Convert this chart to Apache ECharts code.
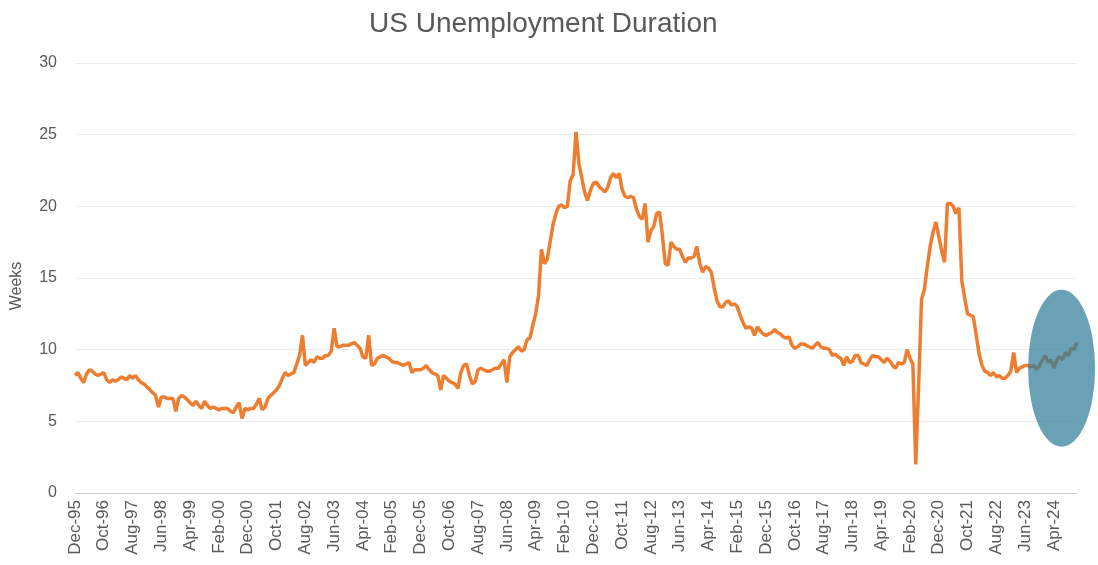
<!DOCTYPE html>
<html>
<head>
<meta charset="utf-8">
<script src="https://cdn.jsdelivr.net/npm/echarts@6/dist/echarts.min.js"></script>
<style>
html,body{margin:0;padding:0;background:#ffffff;}
#chart{width:1098px;height:565px;}
</style>
</head>
<body>
<div id="chart"></div>
<script>
// ---- data ----
const titleText = 'US Unemployment Duration';
const yAxisName = 'Weeks';
const startYear = 1995;
const startMonthIndex = 11; // December
const monthNames = ['Jan','Feb','Mar','Apr','May','Jun','Jul','Aug','Sep','Oct','Nov','Dec'];

// Median duration of unemployment (weeks), monthly from Dec-95
const medianWeeks = [
  8.2,                                                            // 1995 Dec
  8.4, 8.0, 7.7, 8.3, 8.6, 8.5, 8.3, 8.2, 8.3, 8.4, 7.9, 7.7,     // 1996
  7.9, 7.8, 7.9, 8.1, 8.0, 7.9, 8.2, 8.0, 8.2, 7.9, 7.7, 7.6,     // 1997
  7.4, 7.2, 7.0, 6.8, 6.0, 6.7, 6.7, 6.6, 6.6, 6.6, 5.7, 6.6,     // 1998
  6.8, 6.7, 6.5, 6.3, 6.1, 6.4, 6.1, 5.9, 6.4, 6.1, 5.9, 6.0,     // 1999
  5.9, 5.8, 5.9, 5.9, 5.9, 5.7, 5.6, 6.0, 6.3, 5.2, 5.9, 5.8,     // 2000
  5.9, 5.9, 6.2, 6.6, 5.8, 6.0, 6.6, 6.8, 7.0, 7.2, 7.5, 8.0,     // 2001
  8.4, 8.2, 8.3, 8.4, 9.0, 9.6, 11.0, 8.9, 9.1, 9.3, 9.1, 9.5,    // 2002
  9.4, 9.4, 9.6, 9.6, 9.9, 11.5, 10.2, 10.2, 10.3, 10.3, 10.3, 10.4, // 2003
  10.5, 10.3, 10.1, 9.5, 9.4, 11.0, 8.9, 9.0, 9.4, 9.5, 9.6, 9.5, // 2004
  9.4, 9.2, 9.1, 9.1, 9.0, 8.9, 9.0, 9.1, 8.4, 8.6, 8.6, 8.6,     // 2005
  8.7, 8.9, 8.6, 8.4, 8.3, 8.2, 7.2, 8.2, 8.0, 7.8, 7.7, 7.6,     // 2006
  7.3, 8.4, 8.9, 9.0, 8.2, 7.6, 7.8, 8.6, 8.7, 8.6, 8.5, 8.5,     // 2007
  8.6, 8.7, 8.7, 9.0, 9.3, 7.7, 9.5, 9.8, 10.0, 10.2, 9.9, 10.0,  // 2008
  10.7, 10.8, 11.7, 12.5, 13.8, 17.0, 16.0, 16.3, 17.5, 18.7, 19.5, 20.0, // 2009
  20.1, 19.9, 20.0, 21.8, 22.2, 25.2, 23.0, 22.0, 21.0, 20.4, 21.1, 21.6, // 2010
  21.7, 21.4, 21.2, 21.0, 21.3, 22.0, 22.3, 22.0, 22.3, 21.2, 20.7, 20.6, // 2011
  20.7, 20.6, 19.8, 19.3, 19.1, 20.2, 17.5, 18.3, 18.6, 19.5, 19.6, 18.0, // 2012
  16.0, 15.9, 17.5, 17.2, 17.0, 17.0, 16.5, 16.1, 16.4, 16.4, 16.5, 17.2, // 2013
  16.0, 15.4, 15.8, 15.7, 15.4, 14.3, 13.4, 13.0, 13.0, 13.3, 13.4, 13.1, // 2014
  13.2, 13.0, 12.4, 11.9, 11.5, 11.6, 11.5, 11.0, 11.6, 11.3, 11.1, 11.0, // 2015
  11.1, 11.2, 11.4, 11.2, 11.1, 10.9, 10.8, 10.9, 10.3, 10.1, 10.2, 10.4, // 2016
  10.4, 10.3, 10.2, 10.1, 10.3, 10.5, 10.2, 10.1, 10.1, 10.0, 9.6, 9.7,   // 2017
  9.5, 9.4, 8.9, 9.5, 9.1, 9.2, 9.6, 9.6, 9.1, 9.0, 8.9, 9.3,     // 2018
  9.6, 9.5, 9.5, 9.3, 9.1, 9.4, 9.2, 8.9, 8.7, 9.1, 9.0, 9.1,     // 2019
  10.0, 9.4, 9.0, 2.0, 7.5, 13.5, 14.2, 15.8, 17.2, 18.2, 18.9, 17.9, // 2020
  16.9, 16.1, 20.2, 20.2, 20.0, 19.5, 19.9, 14.8, 13.6, 12.5, 12.4, 12.3, // 2021
  11.0, 9.7, 8.9, 8.5, 8.4, 8.2, 8.4, 8.1, 8.2, 8.0, 8.0, 8.2,    // 2022
  8.5, 9.8, 8.4, 8.7, 8.8, 8.9, 8.9, 8.8, 8.9, 8.6, 8.9, 9.3,     // 2023
  9.6, 9.1, 9.3, 8.7, 9.3, 9.5, 9.3, 9.8, 9.6, 10.1, 10.0, 10.5   // 2024
];

const categories = medianWeeks.map(function (_, i) {
  const m = (startMonthIndex + i) % 12;
  const y = startYear + Math.floor((startMonthIndex + i) / 12);
  return monthNames[m] + '-' + String(y % 100).padStart(2, '0');
});

const yMin = 0, yMax = 30, yInterval = 5;
const labelEvery = 10; // months between x labels

// highlighted region (ellipse annotation) in data terms
const highlightCenter = [342.6, 8.7];

// ---- chart ----
const chart = echarts.init(document.getElementById('chart'), null, {renderer: 'canvas'});
const grey = '#595959';
const fontFam = '"Liberation Sans", Arial, sans-serif';

chart.setOption({
  animation: false,
  backgroundColor: '#ffffff',
  title: {
    text: titleText,
    left: 364,
    top: 5,
    textStyle: {color: grey, fontSize: 28, fontWeight: 'normal', fontFamily: fontFam}
  },
  grid: {left: 75, right: 21, top: 63, bottom: 72, containLabel: false},
  xAxis: {
    type: 'category',
    data: categories,
    boundaryGap: false,
    axisLine: {show: true, lineStyle: {color: '#d0d0d0', width: 1}},
    axisTick: {show: false},
    axisLabel: {
      interval: labelEvery - 1,
      rotate: 90,
      margin: 7,
      color: grey,
      fontSize: 17,
      fontFamily: fontFam
    },
    splitLine: {show: false}
  },
  yAxis: {
    type: 'value',
    min: yMin,
    max: yMax,
    interval: yInterval,
    name: yAxisName,
    nameLocation: 'middle',
    nameGap: 50,
    nameTextStyle: {color: grey, fontSize: 16, fontFamily: fontFam, padding: [0, 16, 0, 0]},
    axisLine: {show: false},
    axisTick: {show: false},
    axisLabel: {color: grey, fontSize: 16, margin: 18, fontFamily: fontFam},
    splitLine: {show: true, lineStyle: {color: '#ececec', width: 1}}
  },
  series: [{
    type: 'line',
    data: medianWeeks,
    showSymbol: false,
    symbol: 'none',
    lineStyle: {color: '#ED7D31', width: 3.5},
    itemStyle: {color: '#ED7D31'},
    z: 2
  }]
});

const c = chart.convertToPixel({gridIndex: 0}, highlightCenter);
chart.setOption({
  graphic: [{
    type: 'circle',
    x: c[0] - 1,
    y: c[1],
    scaleX: 33.5,
    scaleY: 78.5,
    shape: {cx: 0, cy: 0, r: 1},
    style: {fill: 'rgba(50,125,155,0.72)'},
    z: 100
  }]
});
</script>
</body>
</html>
